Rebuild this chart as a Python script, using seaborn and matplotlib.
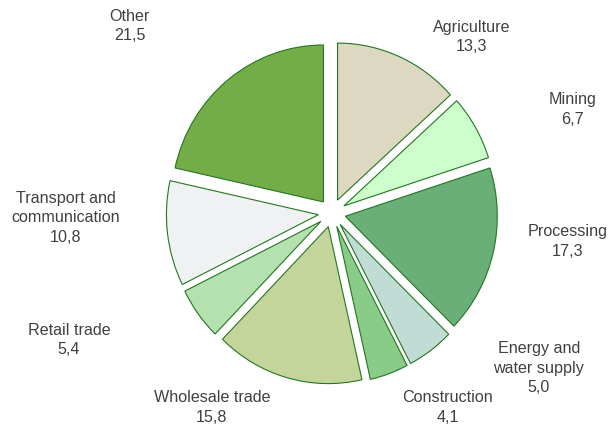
import matplotlib
matplotlib.use("Agg")
import matplotlib.pyplot as plt
import seaborn as sns

# data
sectors = ["Agriculture", "Mining", "Processing", "Energy and\nwater supply",
           "Construction", "Wholesale trade", "Retail trade",
           "Transport and\ncommunication", "Other"]
shares = [13.3, 6.7, 17.3, 5.0, 4.1, 15.8, 5.4, 10.8, 21.5]
colors = ["#DDD8C2", "#CCFFCC", "#6AAE78", "#C0DCD4", "#88CC88",
          "#C4D59C", "#B5E0B0", "#F0F1F3", "#74AC48"]

# label anchor points (data units, pie radius = 1)
label_pos = [(0.92, 1.12), (1.58, 0.66), (1.55, -0.18), (1.36, -0.99),
             (0.76, -1.24), (-0.79, -1.24), (-1.73, -0.81), (-1.75, -0.03),
             (-1.33, 1.19)]

sns.set_theme(style="white")
plt.rcParams["font.family"] = ["Liberation Sans", "DejaVu Sans"]

fig = plt.figure(figsize=(6.12, 4.25), dpi=100)
ax = fig.add_axes([0, 0, 1, 1])

ax.pie(shares, colors=colors, startangle=90, counterclock=False,
       explode=[0.09] * len(shares),
       wedgeprops=dict(edgecolor="#22771F", linewidth=0.8))

# slightly taller than wide, like the original
sx, sy, cx, cy = 152.0, 157.0, 332.0, 213.0
ax.set_aspect("auto")
ax.set_xlim(-cx / sx, (612 - cx) / sx)
ax.set_ylim(-(425 - cy) / sy, cy / sy)
ax.axis("off")

for name, val, (x, y) in zip(sectors, shares, label_pos):
    txt = name + "\n" + f"{val:.1f}".replace(".", ",")
    ax.text(x, y, txt, ha="center", va="center", fontsize=11.6,
            color="#404040", linespacing=1.38)

fig.savefig("out.png", dpi=100)
